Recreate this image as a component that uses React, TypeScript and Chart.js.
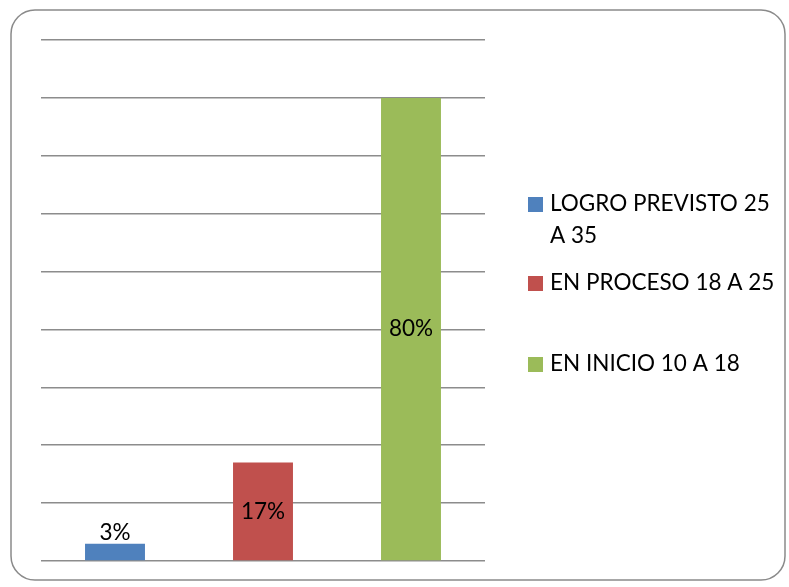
import React, { useEffect, useRef } from "react";
import { Chart, registerables } from "chart.js";

Chart.register(...registerables);

const categories = ["LOGRO PREVISTO 25 A 35", "EN PROCESO 18 A 25", "EN INICIO 10 A 18"];
const legendLines = [["LOGRO PREVISTO 25", "A 35"], ["EN PROCESO 18 A 25"], ["EN INICIO 10 A 18"]];
const values = [3, 17, 80];
const valueLabels = ["3%", "17%", "80%"];
const colors = ["#4f81bd", "#c0504d", "#9bbb59"];
const legendRowY = [204, 283, 364];

const FONT = "Lato";
const FONT_SIZE = 22.5;

const framePlugin = {
  id: "frame",
  beforeDraw(chart: any) {
    const ctx = chart.ctx;
    ctx.save();
    ctx.fillStyle = "#ffffff";
    ctx.fillRect(0, 0, chart.width, chart.height);
    const x = 11, y = 10, w = 774, h = 570, r = 24;
    ctx.beginPath();
    ctx.moveTo(x + r, y);
    ctx.lineTo(x + w - r, y);
    ctx.arcTo(x + w, y, x + w, y + r, r);
    ctx.lineTo(x + w, y + h - r);
    ctx.arcTo(x + w, y + h, x + w - r, y + h, r);
    ctx.lineTo(x + r, y + h);
    ctx.arcTo(x, y + h, x, y + h - r, r);
    ctx.lineTo(x, y + r);
    ctx.arcTo(x, y, x + r, y, r);
    ctx.closePath();
    ctx.strokeStyle = "#8a8a8a";
    ctx.lineWidth = 1.5;
    ctx.stroke();
    ctx.restore();
  },
};

const labelsPlugin = {
  id: "valueLabels",
  afterDatasetsDraw(chart: any) {
    const ctx = chart.ctx;
    const meta = chart.getDatasetMeta(0);
    ctx.save();
    ctx.font = `${FONT_SIZE}px ${FONT}`;
    ctx.fillStyle = "#000000";
    ctx.textAlign = "center";
    ctx.textBaseline = "middle";
    meta.data.forEach((bar: any, i: number) => {
      const hgt = bar.base - bar.y;
      let yy;
      if (hgt < FONT_SIZE + 6) {
        yy = bar.y - FONT_SIZE / 2;
      } else {
        yy = (bar.y + bar.base) / 2;
      }
      ctx.fillText(valueLabels[i], bar.x, yy);
    });
    ctx.restore();
  },
};

const legendPlugin = {
  id: "customLegend",
  afterDraw(chart: any) {
    const ctx = chart.ctx;
    const left = 528;
    const textX = 550;
    const lineH = 32;
    ctx.save();
    ctx.font = `${FONT_SIZE}px ${FONT}`;
    ctx.textBaseline = "middle";
    ctx.textAlign = "left";
    legendLines.forEach((lines, i) => {
      const y0 = legendRowY[i];
      ctx.fillStyle = colors[i];
      ctx.fillRect(left, y0 - 7, 15, 15);
      ctx.fillStyle = "#000000";
      lines.forEach((ln, k) => ctx.fillText(ln, textX, y0 + k * lineH));
    });
    ctx.restore();
  },
};

export default function App() {
  const ref = useRef<HTMLCanvasElement>(null);
  useEffect(() => {
    const chart = new Chart(ref.current!, {
      type: "bar",
      data: {
        labels: categories,
        datasets: [
          {
            data: values,
            backgroundColor: colors,
            borderWidth: 0,
            barPercentage: 0.81,
            categoryPercentage: 0.5,
          },
        ],
      },
      options: {
        responsive: false,
        animation: false,
        layout: { padding: { left: 41, right: 304, top: 40, bottom: 26 } },
        plugins: { legend: { display: false }, tooltip: { enabled: false } },
        scales: {
          x: { display: false, grid: { display: false } },
          y: {
            min: 0,
            max: 90,
            ticks: { display: false, stepSize: 10 },
            border: { display: false },
            grid: { color: "#8c8c8c", lineWidth: 1.5, drawTicks: false },
          },
        },
      },
      plugins: [framePlugin, labelsPlugin, legendPlugin],
    });
    return () => chart.destroy();
  }, []);
  return (
    <div style={{ position: "absolute", left: 0, top: 0, width: 789, height: 587 }}>
      <canvas ref={ref} width={789} height={587} />
    </div>
  );
}
